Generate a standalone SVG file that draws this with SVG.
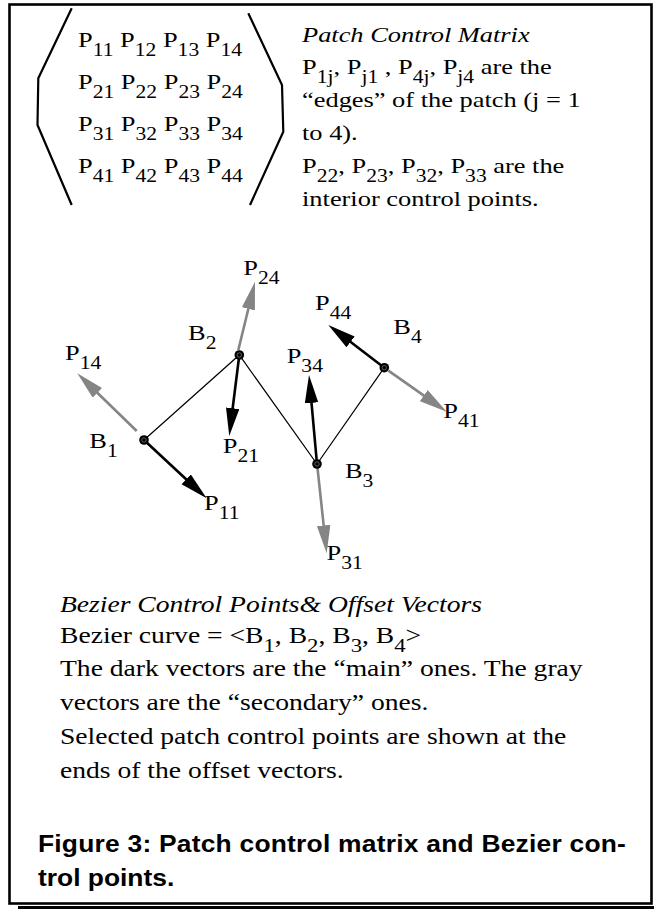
<svg xmlns="http://www.w3.org/2000/svg" width="654" height="909" viewBox="0 0 654 909">
<defs>
<style>
.s{font-family:"Liberation Serif","Times New Roman",serif;font-size:22px;fill:#000}
.b{font-size:23px}
.i{font-style:italic}
.sb{font-size:18px}
.b .sb{font-size:19px}
.cap{font-family:"Liberation Sans",Arial,sans-serif;font-weight:bold;font-size:24px;fill:#000}
.thin{stroke:#000;stroke-width:1.2;fill:none}
.vb{stroke:#000;stroke-width:2.6;fill:none;marker-end:url(#hb)}
.vg{stroke:#858585;stroke-width:2.6;fill:none;marker-end:url(#hg)}
.par{stroke:#000;stroke-width:2.2;fill:none;stroke-linejoin:round}
.pt{fill:#000}
.ptc{fill:none;stroke:#777;stroke-width:0.8}
</style>
<marker id="hb" markerUnits="userSpaceOnUse" markerWidth="30" markerHeight="14" refX="4" refY="6.75" orient="auto" viewBox="0 0 30 14"><path d="M0,0 L28,6.75 L0,13.5 Z" fill="#000"/></marker>
<marker id="hg" markerUnits="userSpaceOnUse" markerWidth="30" markerHeight="14" refX="4" refY="6.75" orient="auto" viewBox="0 0 30 14"><path d="M0,0 L28,6.75 L0,13.5 Z" fill="#858585"/></marker>
</defs>
<rect width="654" height="909" fill="#fff"/>
<g id="frame">
<rect x="9.5" y="4.5" width="642" height="899" fill="none" stroke="#000" stroke-width="2.6"/>
<path d="M18,907.5 H654" stroke="#000" stroke-width="3"/>
</g>
<g id="matrix">
<path class="par" d="M71.7,8.3 L38.3,78.3 L37.5,125 L71.7,205"/>
<path class="par" d="M248.3,13.3 L282,85 L283.3,131.7 L250,205"/>
<text class="s" transform="scale(1.2 1)" x="65" y="47">P<tspan class="sb" dy="9">11</tspan><tspan dy="-9"> P</tspan><tspan class="sb" dy="9">12</tspan><tspan dy="-9"> P</tspan><tspan class="sb" dy="9">13</tspan><tspan dy="-9"> P</tspan><tspan class="sb" dy="9">14</tspan></text>
<text class="s" transform="scale(1.2 1)" x="65" y="89">P<tspan class="sb" dy="9">21</tspan><tspan dy="-9"> P</tspan><tspan class="sb" dy="9">22</tspan><tspan dy="-9"> P</tspan><tspan class="sb" dy="9">23</tspan><tspan dy="-9"> P</tspan><tspan class="sb" dy="9">24</tspan></text>
<text class="s" transform="scale(1.2 1)" x="65" y="131">P<tspan class="sb" dy="9">31</tspan><tspan dy="-9"> P</tspan><tspan class="sb" dy="9">32</tspan><tspan dy="-9"> P</tspan><tspan class="sb" dy="9">33</tspan><tspan dy="-9"> P</tspan><tspan class="sb" dy="9">34</tspan></text>
<text class="s" transform="scale(1.2 1)" x="65" y="173">P<tspan class="sb" dy="9">41</tspan><tspan dy="-9"> P</tspan><tspan class="sb" dy="9">42</tspan><tspan dy="-9"> P</tspan><tspan class="sb" dy="9">43</tspan><tspan dy="-9"> P</tspan><tspan class="sb" dy="9">44</tspan></text>
</g>
<g id="matrix-notes">
<text class="s i" transform="scale(1.2 1)" x="251.7" y="42">Patch Control Matrix</text>
<text class="s" transform="scale(1.2 1)" x="251.7" y="74">P<tspan class="sb" dy="9">1j</tspan><tspan dy="-9">, P</tspan><tspan class="sb" dy="9">j1</tspan><tspan dy="-9"> , P</tspan><tspan class="sb" dy="9">4j</tspan><tspan dy="-9">, P</tspan><tspan class="sb" dy="9">j4</tspan><tspan dy="-9"> are the</tspan></text>
<text class="s" transform="scale(1.2 1)" x="251.7" y="107">“edges” of the patch (j = 1</text>
<text class="s" transform="scale(1.2 1)" x="251.7" y="140">to 4).</text>
<text class="s" transform="scale(1.2 1)" x="251.7" y="173">P<tspan class="sb" dy="9">22</tspan><tspan dy="-9">, P</tspan><tspan class="sb" dy="9">23</tspan><tspan dy="-9">, P</tspan><tspan class="sb" dy="9">32</tspan><tspan dy="-9">, P</tspan><tspan class="sb" dy="9">33</tspan><tspan dy="-9"> are the</tspan></text>
<text class="s" transform="scale(1.2 1)" x="251.7" y="206">interior control points.</text>
</g>
<g id="connectors">
<path class="thin" d="M144,440 L239.3,355 L317,464 L384.3,367.7"/>
</g>
<g id="B1">
<path class="vg" d="M136.7,431 L94.5,390"/>
<path class="vb" d="M144,440 L189.1,482"/>
<circle class="pt" cx="144" cy="440" r="4.8"/><circle class="ptc" cx="144" cy="440" r="2.2"/>
<text class="s" transform="scale(1.2 1)" x="74.4" y="448">B<tspan class="sb" dy="9">1</tspan></text>
<text class="s" transform="scale(1.2 1)" x="54.2" y="360">P<tspan class="sb" dy="9">14</tspan></text>
<text class="s" transform="scale(1.2 1)" x="170" y="510">P<tspan class="sb" dy="9">11</tspan></text>
</g>
<g id="B2">
<path class="vg" d="M238.3,350 L249.3,305"/>
<path class="vb" d="M239.3,355 L232.2,412.2"/>
<circle class="pt" cx="239.3" cy="355" r="4.8"/><circle class="ptc" cx="239.3" cy="355" r="2.2"/>
<text class="s" transform="scale(1.2 1)" x="156.7" y="340">B<tspan class="sb" dy="9">2</tspan></text>
<text class="s" transform="scale(1.2 1)" x="202.8" y="275">P<tspan class="sb" dy="9">24</tspan></text>
<text class="s" transform="scale(1.2 1)" x="185.6" y="453">P<tspan class="sb" dy="9">21</tspan></text>
</g>
<g id="B3">
<path class="vb" d="M317,464 L311.15,398.9"/>
<path class="vg" d="M317.5,468 L324.1,529.4"/>
<circle class="pt" cx="317" cy="464" r="4.8"/><circle class="ptc" cx="317" cy="464" r="2.2"/>
<text class="s" transform="scale(1.2 1)" x="287.5" y="478">B<tspan class="sb" dy="9">3</tspan></text>
<text class="s" transform="scale(1.2 1)" x="238.9" y="363">P<tspan class="sb" dy="9">34</tspan></text>
<text class="s" transform="scale(1.2 1)" x="272.2" y="560">P<tspan class="sb" dy="9">31</tspan></text>
</g>
<g id="B4">
<path class="vb" d="M384.3,367.7 L347.4,339.5"/>
<path class="vg" d="M388.4,370.6 L427.1,397.9"/>
<circle class="pt" cx="384.3" cy="367.7" r="4.8"/><circle class="ptc" cx="384.3" cy="367.7" r="2.2"/>
<text class="s" transform="scale(1.2 1)" x="327.8" y="334">B<tspan class="sb" dy="9">4</tspan></text>
<text class="s" transform="scale(1.2 1)" x="262.5" y="310">P<tspan class="sb" dy="9">44</tspan></text>
<text class="s" transform="scale(1.2 1)" x="369.4" y="418">P<tspan class="sb" dy="9">41</tspan></text>
</g>
<g id="legend">
<text class="s b i" transform="scale(1.2 1)" x="50" y="612">Bezier Control Points&amp; Offset Vectors</text>
<text class="s b" transform="scale(1.2 1)" x="50" y="643">Bezier curve = &lt;B<tspan class="sb" dy="9">1</tspan><tspan dy="-9">, B</tspan><tspan class="sb" dy="9">2</tspan><tspan dy="-9">, B</tspan><tspan class="sb" dy="9">3</tspan><tspan dy="-9">, B</tspan><tspan class="sb" dy="9">4</tspan><tspan dy="-9">&gt;</tspan></text>
<text class="s b" transform="scale(1.2 1)" x="50" y="676">The dark vectors are the “main” ones. The gray</text>
<text class="s b" transform="scale(1.2 1)" x="50" y="710">vectors are the “secondary” ones.</text>
<text class="s b" transform="scale(1.2 1)" x="50" y="744">Selected patch control points are shown at the</text>
<text class="s b" transform="scale(1.2 1)" x="50" y="778">ends of the offset vectors.</text>
</g>
<g id="caption">
<text class="cap" transform="scale(1.1 1)" x="34.5" y="852" textLength="534.5" lengthAdjust="spacing">Figure 3: Patch control matrix and Bezier con-</text>
<text class="cap" transform="scale(1.1 1)" x="34.5" y="886">trol points.</text>
</g>
</svg>
